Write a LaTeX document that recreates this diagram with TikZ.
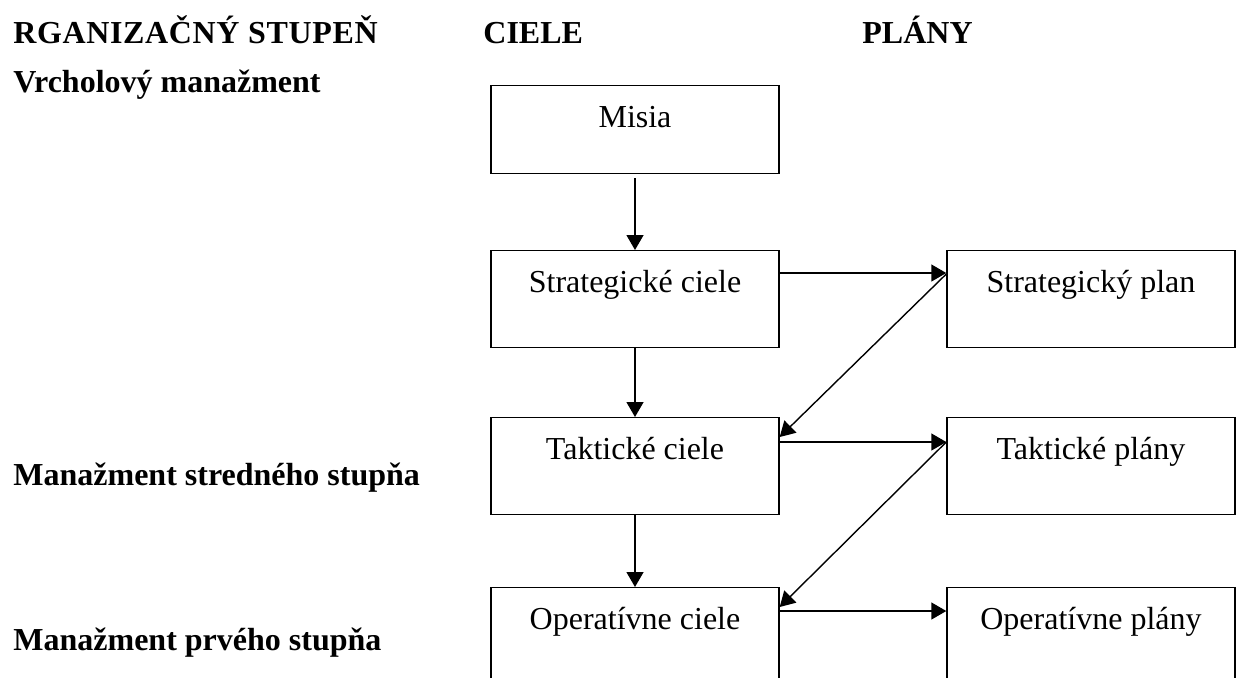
\documentclass[tikz,border=0pt]{standalone}
\usepackage{fontspec}
\setmainfont{Liberation Serif}
\usetikzlibrary{arrows.meta,positioning}

\tikzset{
	cil/.style={draw, line width=0.7pt, minimum width=144pt, inner xsep=0pt, inner ysep=0pt,
		text height=21pt, text depth=27.5pt, font=\fontsize{16}{19}\selectfont},
	hlava/.style={anchor=base west, inner sep=0pt, font=\fontsize{16}{19}\selectfont\bfseries},
	sip/.style={-{Triangle[length=7.5pt,width=8.5pt]}, line width=0.7pt}
}

\begin{document}
\begin{tikzpicture}[x=0.5pt,y=-0.5pt]
	% Define page frame
	\clip (0,0) rectangle (1239,677);
	% Draw headings
	\node[hlava] (stupen) at (13,43) {\addfontfeature{LetterSpace=2}RGANIZAČNÝ STUPEŇ};
	\node[hlava] (ciele) at (483,43) {CIELE};
	\node[hlava] (plany) at (862,43) {PLÁNY};
	\node[hlava] (vrchol) at (13,92) {Vrcholový manažment};
	\node[hlava] (stredny) at (13,485) {Manažment stredného stupňa};
	\node[hlava] (prvy) at (13,650) {Manažment prvého stupňa};
	% Draw goals
	\node[cil, anchor=north, text depth=23pt] (misia) at (635,85) {Misia};
	\node[cil, anchor=north] (strat) at (635,250) {Strategické ciele};
	\node[cil, anchor=north] (takt) at (635,417) {Taktické ciele};
	\node[cil, anchor=north] (oper) at (635,587) {Operatívne ciele};
	% Draw plans
	\node[cil, anchor=north] (splan) at (1091,250) {Strategický plan};
	\node[cil, anchor=north] (tplan) at (1091,417) {Taktické plány};
	\node[cil, anchor=north] (oplan) at (1091,587) {Operatívne plány};
	% Draw arrows down
	\draw[sip, shorten <=2pt] (misia) -- (strat);
	\draw[sip] (strat) -- (takt);
	\draw[sip] (takt) -- (oper);
	% Draw arrows across
	\draw[sip] ([yshift=-11.5pt]strat.north east) -- ([yshift=-11.5pt]splan.north west);
	\draw[sip] ([yshift=-12.5pt]takt.north east) -- ([yshift=-12.5pt]tplan.north west);
	\draw[sip] ([yshift=-12pt]oper.north east) -- ([yshift=-12pt]oplan.north west);
	\draw[sip] ([yshift=-12pt]splan.north west) -- ([yshift=-10pt]takt.north east);
	\draw[sip] ([yshift=-12.5pt]tplan.north west) -- ([yshift=-10pt]oper.north east);
\end{tikzpicture}
\end{document}
